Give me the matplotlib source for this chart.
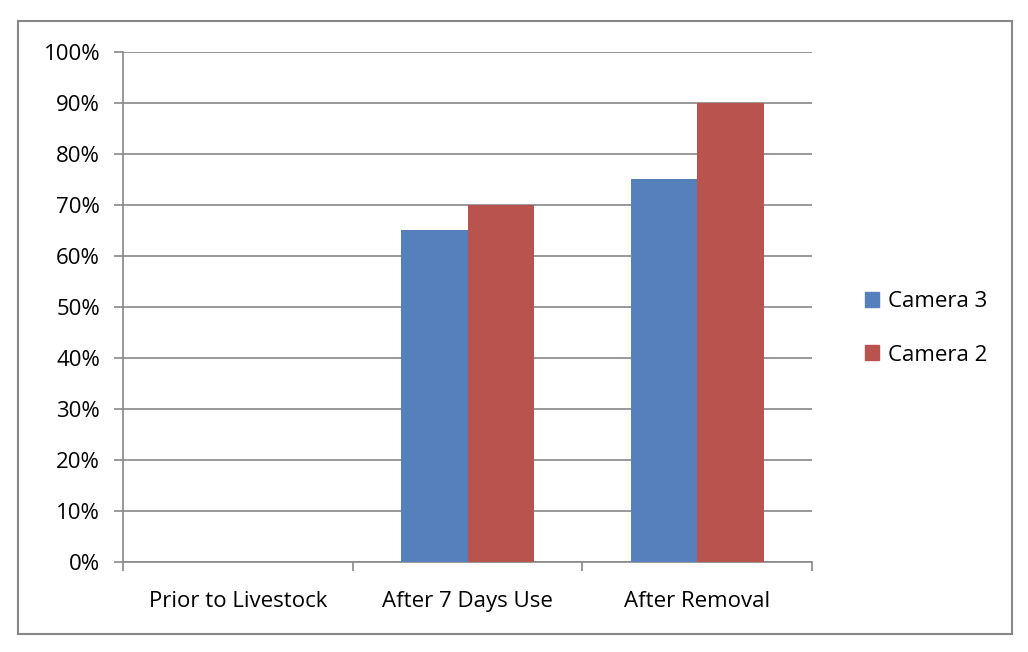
import matplotlib.pyplot as plt
import matplotlib.patches as mpatches
from matplotlib.ticker import FixedLocator, PercentFormatter
import numpy as np

categories = ["Prior to Livestock", "After 7 Days Use", "After Removal"]
camera3 = [0, 65, 75]
camera2 = [0, 70, 90]
yticks = list(range(0, 101, 10))

blue = "#5680BC"
red = "#B9534E"
grey = "#888888"

plt.rcParams["font.family"] = ["Open Sans", "DejaVu Sans"]
fs = 16

fig = plt.figure(figsize=(10.28, 6.52), dpi=100)
ax = fig.add_axes([123 / 1028, 90 / 652, (812 - 123) / 1028, (562 - 52) / 652])

x = np.arange(len(categories))
w = 0.29
ax.bar(x - w / 2, camera3, w, color=blue, label="Camera 3", zorder=3)
ax.bar(x + w / 2, camera2, w, color=red, label="Camera 2", zorder=3)

ax.set_xlim(-0.5, len(categories) - 0.5)
ax.set_ylim(0, 100)
ax.set_yticks(yticks)
ax.yaxis.set_major_formatter(PercentFormatter(decimals=0))
ax.set_xticks(x)
ax.set_xticklabels(categories)
ax.xaxis.set_minor_locator(FixedLocator(np.arange(-0.5, len(categories), 1.0)))

ax.grid(axis="y", color=grey, linewidth=1.2, zorder=0)
for side in ("top", "right"):
    ax.spines[side].set_visible(False)
for side in ("left", "bottom"):
    ax.spines[side].set_color(grey)
    ax.spines[side].set_linewidth(1.2)

ax.tick_params(axis="y", length=6.5, width=1.2, color=grey, pad=10, labelsize=fs)
ax.tick_params(axis="x", which="major", length=0, pad=21, labelsize=fs)
ax.tick_params(axis="x", which="minor", length=6.5, width=1.2, color=grey)

handles = [mpatches.Patch(color=blue), mpatches.Patch(color=red)]
fig.legend(handles, ["Camera 3", "Camera 2"], loc="center left",
           bbox_to_anchor=(0.822, 0.496), frameon=False, fontsize=fs,
           handlelength=0.65, handleheight=0.65, handletextpad=0.4,
           labelspacing=1.45)

border = mpatches.Rectangle((18 / 1028, 1 - 634 / 652), (1012 - 18) / 1028,
                            (634 - 21) / 652, transform=fig.transFigure,
                            fill=False, edgecolor=grey, linewidth=1.5)
fig.patches.append(border)

fig.savefig("out.png", dpi=100)
